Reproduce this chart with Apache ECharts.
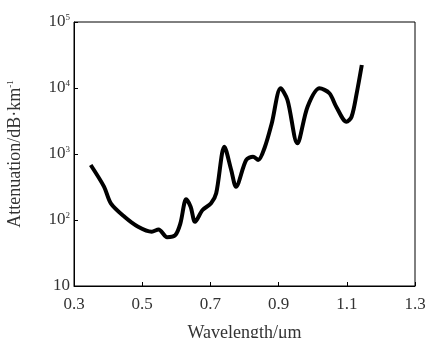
<!DOCTYPE html>
<html>
<head>
<meta charset="utf-8">
<script src="https://cdn.jsdelivr.net/npm/echarts@6/dist/echarts.min.js"></script>
<style>
  html, body { margin: 0; padding: 0; background: #fff; }
  #chart { width: 425px; height: 338px; }
</style>
</head>
<body>
<div id="chart"></div>
<script>
// wavelength in um
const wavelength = [0.349, 0.388, 0.408, 0.448, 0.488, 0.528, 0.548, 0.573, 0.597, 0.612,
  0.629, 0.642, 0.655, 0.677, 0.702, 0.717, 0.741, 0.761, 0.775, 0.805,
  0.825, 0.840, 0.860, 0.880, 0.906, 0.926, 0.955, 0.985, 1.020, 1.049,
  1.069, 1.099, 1.114, 1.129, 1.144];
// attenuation in dB/km
const attenuation = [681, 320, 179, 112, 79, 66.5, 72, 55, 59, 89,
  206, 159, 94, 142, 179, 254, 1290, 573, 320, 811,
  910, 811, 1290, 2920, 9890, 6580, 1450, 5210, 9890, 8320,
  5210, 3080, 3670, 8320, 22300];
const xTicks = [0.3, 0.5, 0.7, 0.9, 1.1, 1.3];

const chart = echarts.init(document.getElementById('chart'));
const font = 'Liberation Serif';
const sup = { fontFamily: font, fontSize: 9, color: '#333', padding: [0, 0, 9, 0] };

chart.setOption({
  animation: false,
  grid: {
    left: 74, right: 10, top: 22, bottom: 52,
    outerBoundsMode: 'none',
    show: true, borderColor: '#000', borderWidth: 1
  },
  xAxis: {
    type: 'value',
    min: 0.3, max: 1.3, interval: 0.2,
    name: 'Wavelength/μm',
    nameLocation: 'middle',
    nameGap: 38,
    nameTextStyle: { fontFamily: font, fontSize: 18, color: '#333' },
    axisLine: { show: true, lineStyle: { color: '#000', width: 1 } },
    axisTick: { show: true, inside: true, length: 4, lineStyle: { color: '#000' } },
    axisLabel: {
      fontFamily: font, fontSize: 17, color: '#333', margin: 10,
      formatter: v => xTicks.find(t => Math.abs(t - v) < 1e-6).toFixed(1)
    },
    splitLine: { show: false }
  },
  yAxis: {
    type: 'log',
    logBase: 10,
    min: 10, max: 100000,
    name: 'Attenuation/dB·km{sup|-1}',
    nameLocation: 'middle',
    nameGap: 50,
    nameTextStyle: { fontFamily: font, fontSize: 18, color: '#333', rich: { sup: sup } },
    axisLine: { show: true, lineStyle: { color: '#000', width: 1 } },
    axisTick: { show: true, inside: true, length: 4, lineStyle: { color: '#000' } },
    axisLabel: {
      fontFamily: font, fontSize: 17, color: '#333', margin: 4,
      formatter: v => {
        const e = Math.round(Math.log10(v));
        return e === 1 ? '10' : '10{sup|' + e + '}';
      },
      rich: { sup: sup }
    },
    splitLine: { show: false }
  },
  series: [{
    type: 'line',
    data: wavelength.map((w, i) => [w, attenuation[i]]),
    smooth: 0.3,
    showSymbol: false,
    lineStyle: { color: '#000', width: 4 }
  }]
});
</script>
</body>
</html>
